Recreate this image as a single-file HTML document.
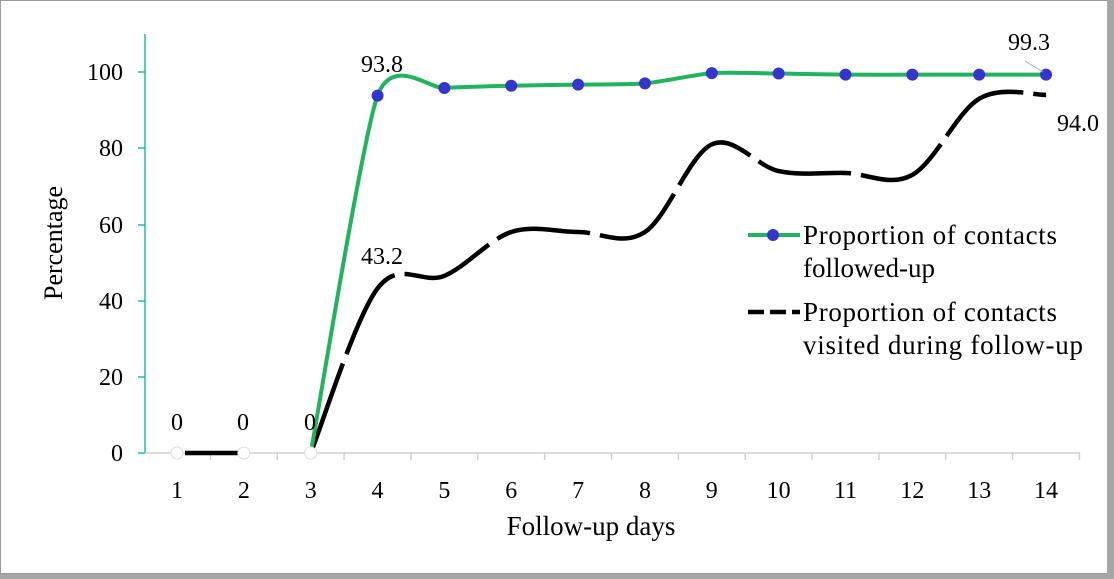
<!DOCTYPE html>
<html><head><style>
body{margin:0;background:#fff}
svg{display:block;font-family:"Liberation Serif",serif}
</style></head><body>
<svg id="s" width="1114" height="579" xmlns="http://www.w3.org/2000/svg">
<rect x="0" y="0" width="1114" height="579" fill="#fff"/>
<rect x="0.5" y="0.5" width="1107" height="573" fill="none" stroke="#9a9a9a" stroke-width="1"/>
<rect x="1107" y="0" width="7" height="579" fill="#a6a6a6"/>
<rect x="0" y="574" width="1114" height="5" fill="#a6a6a6"/>
<line x1="145" y1="34" x2="145" y2="453" stroke="#1fbf9a" stroke-width="1.5"/>
<g stroke="#1fbf9a" stroke-width="1.5">
<line x1="138" y1="453" x2="145" y2="453"/><line x1="138" y1="377" x2="145" y2="377"/>
<line x1="138" y1="301" x2="145" y2="301"/><line x1="138" y1="225" x2="145" y2="225"/>
<line x1="138" y1="148" x2="145" y2="148"/><line x1="138" y1="72" x2="145" y2="72"/>
</g>
<line x1="145" y1="453" x2="1080" y2="453" stroke="#d0d0d0" stroke-width="1.5"/>
<g id="xt" stroke="#d0d0d0" stroke-width="1.5"></g>
<g font-size="24" text-anchor="end" fill="#000">
<text x="123" y="461">0</text><text x="123" y="385">20</text><text x="123" y="309">40</text>
<text x="123" y="233">60</text><text x="123" y="156">80</text><text x="123" y="80">100</text>
</g>
<g id="xl" font-size="24" text-anchor="middle"></g>
<text transform="translate(62,243) rotate(-90)" font-size="26" text-anchor="middle">Percentage</text>
<text x="591" y="535" font-size="27" text-anchor="middle">Follow-up days</text>
<path id="bk" fill="none" stroke="#000" stroke-width="4.5" stroke-dasharray="95,10"/>
<line x1="185" y1="453" x2="248" y2="453" stroke="#000" stroke-width="4.5"/>
<path id="gr" fill="none" stroke="#22b35e" stroke-width="4"/>
<g id="mk"></g>
<g font-size="24" text-anchor="middle">
<text x="177" y="430">0</text><text x="243" y="430">0</text><text x="310" y="430">0</text>
<text x="382" y="72">93.8</text><text x="382" y="264">43.2</text>
<text x="1029" y="50">99.3</text><text x="1078" y="131">94.0</text>
</g>
<line x1="1025" y1="61" x2="1043" y2="72" stroke="#aaa" stroke-width="1"/>
<line x1="748" y1="235" x2="800" y2="235" stroke="#22b35e" stroke-width="4"/>
<circle cx="773" cy="235" r="6" fill="#3535cc"/>
<g font-size="27">
<text x="803" y="244" textLength="254">Proportion of contacts</text>
<text x="803" y="277">followed-up</text>
<text x="803" y="321" textLength="254">Proportion of contacts</text>
<text x="803" y="354" textLength="280">visited during follow-up</text>
</g>
<line x1="748" y1="312" x2="800" y2="312" stroke="#000" stroke-width="4.5" stroke-dasharray="16,6"/>
</svg>
<script>
var px=i=>177+(i-1)*66.85, py=v=>453-3.81*v;
var g=[0,0,0,93.8,95.8,96.4,96.7,97.0,99.7,99.6,99.3,99.3,99.3,99.3];
var b=[0,0,0,43.2,46.5,58,58,58,81,74,73.5,73,93,94];
function path(a,s,k){var p=[];for(var i=s;i<a.length;i++)p.push([px(i+1),py(a[i])]);
var d="M"+p[0][0]+","+p[0][1];
for(var i=0;i<p.length-1;i++){var p0=p[i-1]||p[i],p1=p[i],p2=p[i+1],p3=p[i+2]||p2;
d+=" C"+(p1[0]+(p2[0]-p0[0])/k)+","+(p1[1]+(p2[1]-p0[1])/k)+" "+(p2[0]-(p3[0]-p1[0])/k)+","+(p2[1]-(p3[1]-p1[1])/k)+" "+p2[0]+","+p2[1];}
return d;}
document.getElementById("gr").setAttribute("d",path(g,2,9));
document.getElementById("bk").setAttribute("d",path(b,2,6));
var ns="http://www.w3.org/2000/svg",mk=document.getElementById("mk"),xl=document.getElementById("xl"),xt=document.getElementById("xt");
for(var i=1;i<=14;i++){var c=document.createElementNS(ns,"circle");c.setAttribute("cx",px(i));c.setAttribute("cy",py(g[i-1]));c.setAttribute("r",6);
c.setAttribute("fill",i<=3?"#fff":"#3535cc");if(i<=3){c.setAttribute("stroke","#ddd");}mk.appendChild(c);
var t=document.createElementNS(ns,"text");t.setAttribute("x",px(i));t.setAttribute("y",498);t.textContent=i;xl.appendChild(t);
var l=document.createElementNS(ns,"line");var x=px(i)+33.4;l.setAttribute("x1",x);l.setAttribute("x2",x);l.setAttribute("y1",453);l.setAttribute("y2",460);xt.appendChild(l);}
</script>
</body></html>
